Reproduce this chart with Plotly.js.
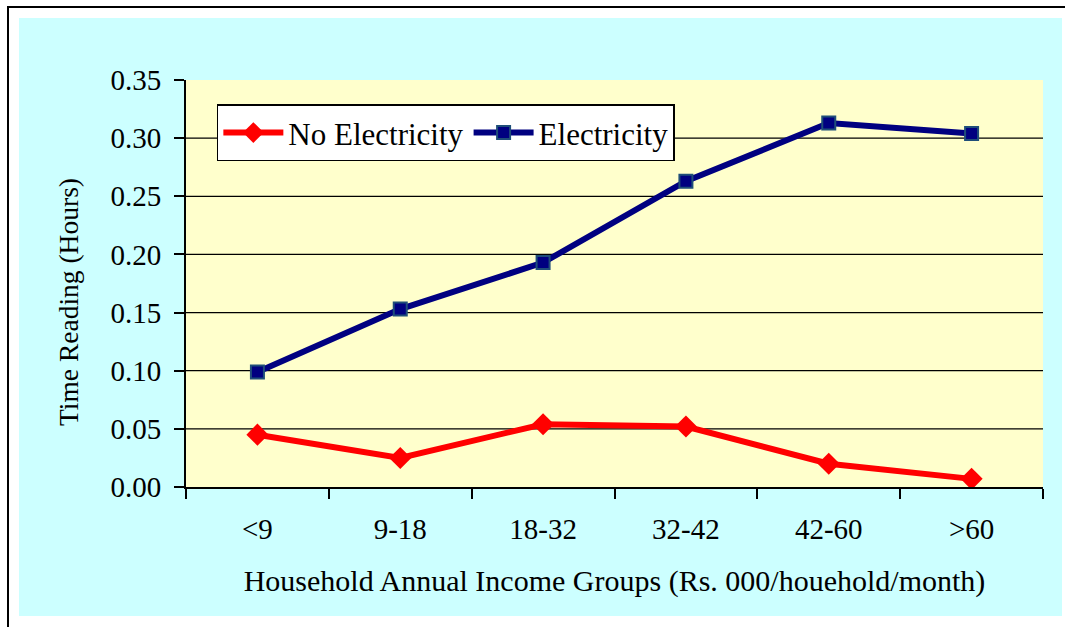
<!DOCTYPE html>
<html>
<head>
<meta charset="utf-8">
<script src="https://cdn.plot.ly/plotly-3.0.1.min.js"></script>
<style>
  html, body { margin: 0; padding: 0; background: #ffffff; }
  #wrap { position: relative; width: 1065px; height: 627px; overflow: hidden; background: #ffffff; }
  #frame { position: absolute; left: 7px; top: 6px; width: 1070px; height: 640px;
           border-left: 2px solid #000; border-top: 2px solid #000; box-sizing: border-box; }
  #panel { position: absolute; left: 19px; top: 18px; width: 1043px; height: 598px; background: #ccffff; }
  #chart { position: absolute; left: 0; top: 0; width: 1065px; height: 627px; }
</style>
</head>
<body>
<div id="wrap">
  <div id="frame"></div>
  <div id="panel"></div>
  <div id="chart"></div>
</div>
<script>
// ---- data ----
const categories = ["<9", "9-18", "18-32", "32-42", "42-60", ">60"];
const noElectricity = [0.045, 0.025, 0.054, 0.052, 0.020, 0.007];
const electricity = [0.099, 0.153, 0.193, 0.263, 0.313, 0.304];
const seriesNames = ["No Electricity", "Electricity"];
const yTickValues = [0, 0.05, 0.10, 0.15, 0.20, 0.25, 0.30, 0.35];
const gridValues = [0.05, 0.10, 0.15, 0.20, 0.25, 0.30];
const xTitle = "Household Annual Income Groups (Rs. 000/houehold/month)";
const yTitle = "Time Reading (Hours)";

const FONT = "'Liberation Serif', 'Times New Roman', Times, serif";

const traces = [
  {
    x: categories, y: noElectricity, name: seriesNames[0],
    type: "scatter", mode: "lines+markers",
    line: { color: "#ff0000", width: 6 },
    marker: { symbol: "diamond", size: 17, color: "#ff0000", line: { width: 0 } },
    hoverinfo: "x+y"
  },
  {
    x: categories, y: electricity, name: seriesNames[1],
    type: "scatter", mode: "lines+markers",
    line: { color: "#000080", width: 6 },
    marker: { symbol: "square", size: 13, color: "#000080", line: { color: "#1f4e79", width: 2 } },
    hoverinfo: "x+y"
  }
];

const shapes = gridValues.map(v => ({
  type: "line", xref: "paper", x0: 0, x1: 1, yref: "y", y0: v, y1: v,
  line: { color: "#000000", width: 1.2 }, layer: "below"
}));

const layout = {
  width: 1065, height: 627,
  paper_bgcolor: "rgba(0,0,0,0)",
  plot_bgcolor: "#ffffcc",
  margin: { l: 186, r: 22, t: 80, b: 140 },
  font: { family: FONT, color: "#000000", size: 29 },
  showlegend: true,
  legend: {
    x: 0.036, y: 0.940, xanchor: "left", yanchor: "top",
    orientation: "h",
    bgcolor: "#ffffff", bordercolor: "#000000", borderwidth: 1.5,
    font: { family: FONT, size: 31, color: "#000000" },
    itemwidth: 60,
    tracegroupgap: 0
  },
  xaxis: {
    type: "category",
    range: [-0.5, 5.5],
    tickson: "boundaries",
    ticks: "outside", ticklen: 10, tickwidth: 2, tickcolor: "#000000",
    ticklabelstandoff: 15,
    showline: true, linecolor: "#000000", linewidth: 2,
    showgrid: false, zeroline: false,
    tickfont: { family: FONT, size: 29 },
    title: { text: xTitle, font: { family: FONT, size: 30 }, standoff: 26 },
    fixedrange: true
  },
  yaxis: {
    range: [0, 0.35],
    tickvals: yTickValues,
    tickformat: ".2f",
    ticks: "outside", ticklen: 10, tickwidth: 2, tickcolor: "#000000",
    ticklabelstandoff: 7,
    showline: true, linecolor: "#000000", linewidth: 2,
    showgrid: false, zeroline: false,
    tickfont: { family: FONT, size: 29 },
    fixedrange: true
  },
  annotations: [{
    text: yTitle, xref: "paper", yref: "paper",
    x: -0.1377, y: 0.4545, xanchor: "center", yanchor: "middle",
    textangle: -90, showarrow: false,
    font: { family: FONT, size: 27.5, color: "#000000" }
  }],
  shapes: shapes
};

Plotly.newPlot("chart", traces, layout, { displayModeBar: false });
</script>
</body>
</html>
